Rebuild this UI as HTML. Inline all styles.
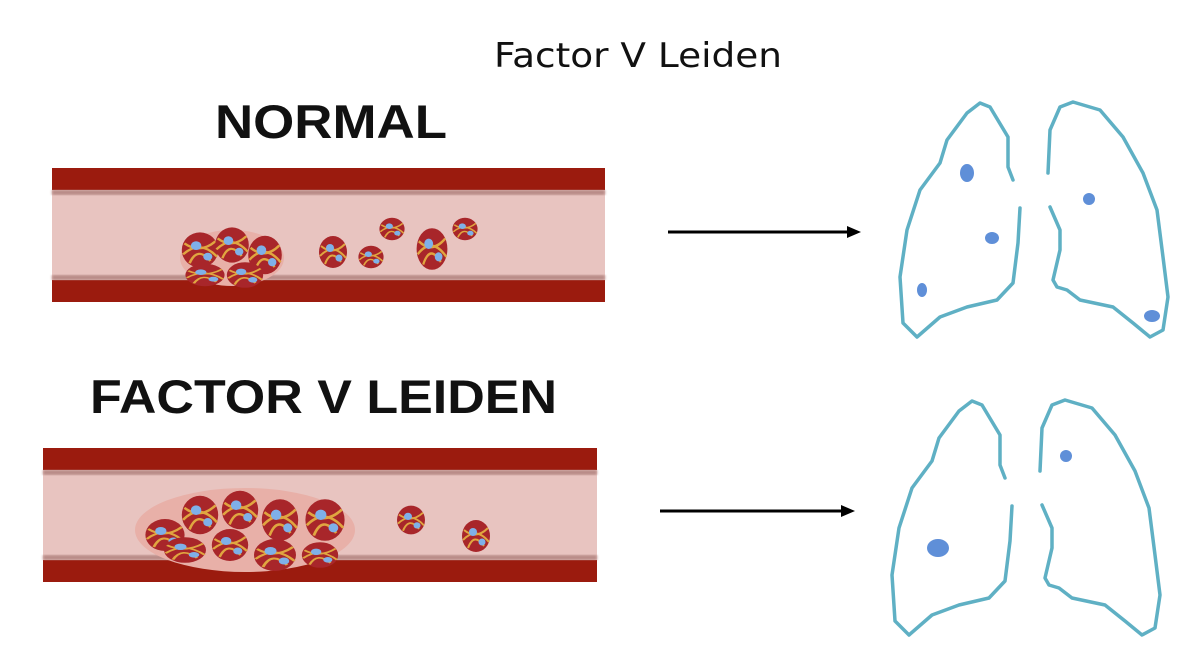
<!DOCTYPE html>
<html><head><meta charset="utf-8"><style>
html,body{margin:0;padding:0;background:#fff;}
svg{display:block;}
</style></head><body>
<svg width="1200" height="658" viewBox="0 0 1200 658" xmlns="http://www.w3.org/2000/svg">
<defs>
<filter id="b"><feGaussianBlur stdDeviation="1.2"/></filter>
<g id="rbc">
<ellipse cx="0" cy="0" rx="14" ry="16" fill="#a8262a"/>
<path d="M-12,-6 Q0,4 12,-8 M-8,12 Q-2,-4 8,10 M-13,4 Q0,-10 13,6" stroke="#e0a640" stroke-width="2" fill="none"/>
<circle cx="-3" cy="-4" r="4" fill="#7fb0e8"/>
<circle cx="6" cy="6" r="3.5" fill="#7fb0e8"/>
</g>
<g id="lung" fill="none" stroke="#5fb0c4" stroke-width="3.5" stroke-linejoin="round" stroke-linecap="round">
<path d="M1013,180 L1008,167 L1008,137 L990,107 L980,103 L967,113 L947,140 L940,163 L920,190 L907,230 L900,277 L903,323 L917,337 L940,317 L967,307 L997,300 L1013,283 L1018,243 L1020,208"/>
<path d="M1048,173 L1050,130 L1060,107 L1073,102 L1100,110 L1123,137 L1143,173 L1157,210 L1163,257 L1168,297 L1163,330 L1150,337 L1133,323 L1113,307 L1080,300 L1067,290 L1057,287 L1053,280 L1060,250 L1060,230 L1050,207"/>
</g>
</defs>

<text x="494" y="67" textLength="288" lengthAdjust="spacingAndGlyphs" font-family="DejaVu Sans, Liberation Sans, sans-serif" font-size="34" fill="#111">Factor V Leiden</text>
<text x="215" y="138" textLength="232" lengthAdjust="spacingAndGlyphs" font-family="Liberation Sans, sans-serif" font-weight="bold" font-size="47" fill="#111">NORMAL</text>
<text x="90" y="413" textLength="467" lengthAdjust="spacingAndGlyphs" font-family="Liberation Sans, sans-serif" font-weight="bold" font-size="47" fill="#111">FACTOR V LEIDEN</text>

<!-- top vessel -->
<rect x="52" y="168" width="553" height="134" fill="#e8c4c0"/>
<rect x="52" y="168" width="553" height="22" fill="#9b1b0e"/>
<rect x="52" y="190" width="553" height="5" fill="#b88a86" filter="url(#b)"/>
<rect x="52" y="280" width="553" height="22" fill="#9b1b0e"/>
<rect x="52" y="275" width="553" height="5" fill="#b88a86" filter="url(#b)"/>
<g>
<ellipse cx="232" cy="258" rx="52" ry="28" fill="#e8b0a8"/>
<use href="#rbc" transform="translate(200,250) scale(1.3,1.1)"/>
<use href="#rbc" transform="translate(232,245) scale(1.2,1.1)"/>
<use href="#rbc" transform="translate(265,255) scale(1.2,1.2)"/>
<use href="#rbc" transform="translate(205,275) scale(1.4,0.7)"/>
<use href="#rbc" transform="translate(245,275) scale(1.3,0.8)"/>
</g>
<use href="#rbc" transform="translate(333,252) scale(1,1)"/>
<use href="#rbc" transform="translate(371,257) scale(0.9,0.7)"/>
<use href="#rbc" transform="translate(392,229) scale(0.9,0.7)"/>
<use href="#rbc" transform="translate(432,249) scale(1.1,1.3)"/>
<use href="#rbc" transform="translate(465,229) scale(0.9,0.7)"/>

<!-- bottom vessel -->
<rect x="43" y="448" width="554" height="134" fill="#e8c4c0"/>
<rect x="43" y="448" width="554" height="22" fill="#9b1b0e"/>
<rect x="43" y="470" width="554" height="5" fill="#b88a86" filter="url(#b)"/>
<rect x="43" y="560" width="554" height="22" fill="#9b1b0e"/>
<rect x="43" y="555" width="554" height="5" fill="#b88a86" filter="url(#b)"/>
<g>
<ellipse cx="245" cy="530" rx="110" ry="42" fill="#e8b0a8"/>
<use href="#rbc" transform="translate(165,535) scale(1.4,1)"/>
<use href="#rbc" transform="translate(200,515) scale(1.3,1.2)"/>
<use href="#rbc" transform="translate(240,510) scale(1.3,1.2)"/>
<use href="#rbc" transform="translate(280,520) scale(1.3,1.3)"/>
<use href="#rbc" transform="translate(325,520) scale(1.4,1.3)"/>
<use href="#rbc" transform="translate(185,550) scale(1.5,0.8)"/>
<use href="#rbc" transform="translate(230,545) scale(1.3,1)"/>
<use href="#rbc" transform="translate(275,555) scale(1.5,1)"/>
<use href="#rbc" transform="translate(320,555) scale(1.3,0.8)"/>
</g>
<use href="#rbc" transform="translate(411,520) scale(1,0.9)"/>
<use href="#rbc" transform="translate(476,536) scale(1,1)"/>

<!-- arrows -->
<line x1="668" y1="232" x2="850" y2="232" stroke="#000" stroke-width="3"/>
<polygon points="861,232 847,226 847,238" fill="#000"/>
<line x1="660" y1="511" x2="844" y2="511" stroke="#000" stroke-width="3"/>
<polygon points="855,511 841,505 841,517" fill="#000"/>

<use href="#lung"/>
<g fill="#5f8fd8">
<ellipse cx="967" cy="173" rx="7" ry="9"/>
<ellipse cx="992" cy="238" rx="7" ry="6"/>
<ellipse cx="922" cy="290" rx="5" ry="7"/>
<ellipse cx="1089" cy="199" rx="6" ry="6"/>
<ellipse cx="1152" cy="316" rx="8" ry="6"/>
</g>
<use href="#lung" transform="translate(-8,298)"/>
<g fill="#5f8fd8">
<ellipse cx="938" cy="548" rx="11" ry="9"/>
<ellipse cx="1066" cy="456" rx="6" ry="6"/>
</g>
</svg>
</body></html>
